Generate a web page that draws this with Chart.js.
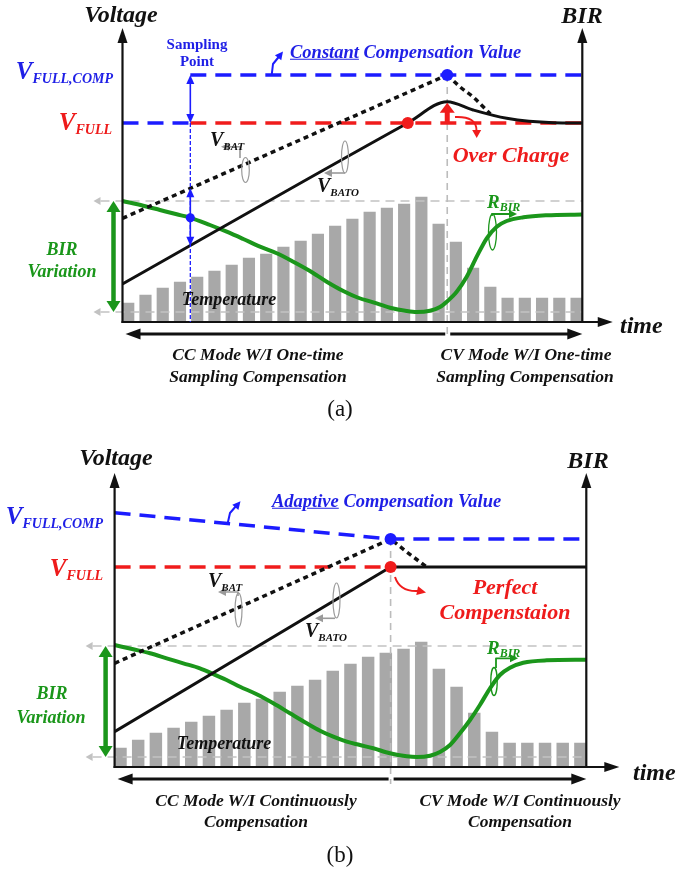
<!DOCTYPE html>
<html>
<head>
<meta charset="utf-8">
<title>BIR compensation charging</title>
<script src="https://cdn.jsdelivr.net/npm/chart.js@4.4.1/dist/chart.umd.min.js"></script>
<style>
html,body{margin:0;padding:0;background:#fff;}
#wrap{position:relative;width:679px;height:873px;overflow:hidden;font-family:"Liberation Serif","Times New Roman",Times,serif;}
#wrap canvas{position:absolute;left:0;}
.t{position:absolute;white-space:nowrap;line-height:1;font-weight:bold;font-style:italic;color:#111;z-index:2;}
.c{transform:translate(-50%,-50%);text-align:center;}
.l{transform:translate(0,-50%);}
.r{transform:translate(-100%,-50%);}
.blue{color:#1f1fe6;} .red{color:#ee1b1b;} .green{color:#1a961a;}
.s{position:relative;}
.u{text-decoration:underline;}
.n{font-weight:normal;font-style:normal;}
</style>
</head>
<body>
<div id="wrap">
<canvas id="ca" width="679" height="436" style="top:0px"></canvas>
<canvas id="cb" width="679" height="437" style="top:436px"></canvas>

<!-- panel (a) texts -->
<div class="t c" style="left:121px;top:14px;font-size:24px">Voltage</div>
<div class="t c" style="left:582px;top:15px;font-size:24px">BIR</div>
<div class="t c blue" style="left:197px;top:44px;font-size:15px;font-style:normal">Sampling</div>
<div class="t c blue" style="left:197px;top:61px;font-size:15px;font-style:normal">Point</div>
<div class="t r blue" style="left:113px;top:70px;font-size:25px">V<span class="s" style="font-size:14px;top:4px">FULL,COMP</span></div>
<div class="t r red" style="left:112px;top:121px;font-size:25px">V<span class="s" style="font-size:14px;top:4px">FULL</span></div>
<div class="t l blue" style="left:290px;top:52px;font-size:18.5px"><span class="u">Constant</span> Compensation Value</div>
<div class="t l" style="left:210px;top:139px;font-size:20px">V<span class="s" style="font-size:11px;top:4px">BAT</span></div>
<div class="t l" style="left:317px;top:185px;font-size:20px">V<span class="s" style="font-size:11px;top:4px">BATO</span></div>
<div class="t l green" style="left:487px;top:201px;font-size:19px">R<span class="s" style="font-size:12px;top:3px">BIR</span></div>
<div class="t c red" style="left:511px;top:155px;font-size:22px">Over Charge</div>
<div class="t c" style="left:229px;top:299px;font-size:18px">Temperature</div>
<div class="t c green" style="left:62px;top:249px;font-size:18px">BIR</div>
<div class="t c green" style="left:62px;top:271px;font-size:18px">Variation</div>
<div class="t c" style="left:258px;top:355px;font-size:17.5px">CC Mode W/I One-time</div>
<div class="t c" style="left:258px;top:377px;font-size:17.5px">Sampling Compensation</div>
<div class="t c" style="left:526px;top:355px;font-size:17.5px">CV Mode W/I One-time</div>
<div class="t c" style="left:525px;top:377px;font-size:17.5px">Sampling Compensation</div>
<div class="t l" style="left:620px;top:325px;font-size:24px">time</div>
<div class="t c n" style="left:340px;top:408px;font-size:23px">(a)</div>

<!-- panel (b) texts -->
<div class="t c" style="left:116px;top:457px;font-size:24px">Voltage</div>
<div class="t c" style="left:588px;top:460px;font-size:24px">BIR</div>
<div class="t r blue" style="left:103px;top:515px;font-size:25px">V<span class="s" style="font-size:14px;top:4px">FULL,COMP</span></div>
<div class="t r red" style="left:103px;top:567px;font-size:25px">V<span class="s" style="font-size:14px;top:4px">FULL</span></div>
<div class="t l blue" style="left:272px;top:501px;font-size:18.5px"><span class="u">Adaptive</span> Compensation Value</div>
<div class="t l" style="left:208px;top:580px;font-size:20px">V<span class="s" style="font-size:11px;top:4px">BAT</span></div>
<div class="t l" style="left:305px;top:630px;font-size:20px">V<span class="s" style="font-size:11px;top:4px">BATO</span></div>
<div class="t l green" style="left:487px;top:647px;font-size:19px">R<span class="s" style="font-size:12px;top:3px">BIR</span></div>
<div class="t c red" style="left:505px;top:587px;font-size:22px">Perfect</div>
<div class="t c red" style="left:505px;top:612px;font-size:22px">Compenstaion</div>
<div class="t c" style="left:224px;top:743px;font-size:18px">Temperature</div>
<div class="t c green" style="left:52px;top:693px;font-size:18px">BIR</div>
<div class="t c green" style="left:51px;top:717px;font-size:18px">Variation</div>
<div class="t c" style="left:256px;top:801px;font-size:17.5px">CC Mode W/I Continuously</div>
<div class="t c" style="left:256px;top:822px;font-size:17.5px">Compensation</div>
<div class="t c" style="left:520px;top:801px;font-size:17.5px">CV Mode W/I Continuously</div>
<div class="t c" style="left:520px;top:822px;font-size:17.5px">Compensation</div>
<div class="t l" style="left:633px;top:772px;font-size:24px">time</div>
<div class="t c n" style="left:340px;top:854px;font-size:23px">(b)</div>
</div>

<script>
// ---------------- data (arbitrary units) ----------------
const xStart = -1/3, xEnd = 26 + 1/3;          // time axis span (bar slots 0..26)
const timeSlots = [0,1,2,3,4,5,6,7,8,9,10,11,12,13,14,15,16,17,18,19,20,21,22,23,24,25,26];
const axisTopValue = 294;

// panel (a)
const tempA = [19,27,34,40,45,51,57,64,68,75,81,88,96,103,110,114,118,125,98,80,54,35,24,24,24,24,24];
const aVfull = 199, aVfullComp = 247, aSampleX = 3.6, aPeakX = 18.5, aRedDotX = 16.21;
const aGrayTop = 121, aGrayBottom = 10, aTimeTip = 28.1;
const aVbatoX = [xStart, 16.21, 18.5, 20.0, 21.95, 24.64, xEnd];
const aVbatoY = [38, 199, 220.3, 212, 203.7, 199.3, 199];
const aVbatRiseX = [xStart, 18.5];
const aVbatRiseY = [103.7, 247];
const aVbatFallX = [18.5, 19.25, 20.0, 20.6, 21.0];
const aVbatFallY = [247, 235, 225, 215, 208];
const aBirX = [xStart,0.87,1.84,2.81,3.52,4.74,5.71,6.67,7.64,8.61,9.57,10.54,11.51,12.47,13.3,14.21,15.18,16.15,16.73,17.5,18.08,18.47,19.05,19.63,20.21,20.79,21.37,21.95,22.92,24.27,xEnd];
const aBirY = [121,116.3,112,107.7,104.7,97,90.3,83,75.3,68.7,60.3,51,40.3,31,24.5,19.7,14.3,11,10,11.3,15,20.3,30.3,45.3,65.3,83.7,95.3,101,104.7,106.7,107.5];

// panel (b)
const tempB = [19,27,34,39,45,51,57,64,68,75,81,87,96,103,110,114,118,125,98,80,54,35,24,24,24,24,24];
const bVfull = 200, bPeakX = 15.27, bGrayTop = 121, bGrayBottom = 10, bTimeTip = 28.2;
const bCompX = [xStart, 15.27, xEnd];
const bCompY = [254.3, 228, 228];
const bVbatoX = [xStart, 15.27, xEnd];
const bVbatoY = [35.3, 200, 200];
const bVbatX  = [xStart, 15.27, 16.18, 17.31];
const bVbatY  = [103.7, 228, 215, 200];
const bBirX = [xStart,0.72,1.67,2.61,3.55,4.49,5.16,6.0,6.76,7.7,8.64,9.58,10.53,11.28,12.03,12.79,13.54,14.29,15.23,16.18,16.74,17.5,18.06,18.63,19.19,19.76,20.32,20.89,21.45,22.02,22.77,24.09,xEnd];
const bBirY = [122,117.7,113.7,108.7,103.7,98.7,93.7,87,80.3,72.7,63.7,53.7,43.7,36.3,30.3,25.3,22,18.7,13.7,10.7,10,11.3,15,22,33.7,47,62,78.7,92,99.3,104.3,106.7,107.3];

// ---------------- styles ----------------
const C = {black:'#111111', blue:'#1c1cff', red:'#f01c1c', green:'#1b961b', bar:'#a8a8a8', guide:'#c2c2c2', note:'#9a9a9a'};

const zip = (xs, ys) => xs.map((x, i) => ({x, y: ys[i]}));
function interp(x, xs, ys){
  for (let i = 1; i < xs.length; i++) if (x <= xs[i]) { const t = (x - xs[i-1]) / (xs[i] - xs[i-1]); return ys[i-1] + t * (ys[i] - ys[i-1]); }
  return ys[ys.length - 1];
}
function lineDs(data, color, width, dash, order, smooth){
  return {type:'line', data, borderColor:color, borderWidth:width, borderDash:dash || [], pointRadius:0, fill:false, order,
          cubicInterpolationMode: smooth ? 'monotone' : 'default', tension:0, borderCapStyle:'butt', borderJoinStyle:'round'};
}
function barDs(values, thick){
  return {type:'bar', data: zip(timeSlots, values), backgroundColor:C.bar, barThickness:thick, order:10};
}
function dotDs(points, colors){
  return {type:'line', data: points, showLine:false, pointRadius:6, pointBackgroundColor:colors, pointBorderColor:colors, pointBorderWidth:0, order:0};
}

// ---------------- drawing helpers ----------------
function seg(ctx, pts, color, w, dash){
  ctx.save(); ctx.beginPath(); ctx.moveTo(pts[0][0], pts[0][1]);
  for (let i = 1; i < pts.length; i++) ctx.lineTo(pts[i][0], pts[i][1]);
  ctx.strokeStyle = color; ctx.lineWidth = w; ctx.setLineDash(dash || []); ctx.lineJoin = 'round'; ctx.stroke(); ctx.restore();
}
function head(ctx, x, y, ang, len, wid, color){
  ctx.save(); ctx.translate(x, y); ctx.rotate(ang); ctx.beginPath();
  ctx.moveTo(0, 0); ctx.lineTo(-len, -wid/2); ctx.lineTo(-len, wid/2); ctx.closePath();
  ctx.fillStyle = color; ctx.fill(); ctx.restore();
}
function ell(ctx, cx, cy, rx, ry, color, w){
  ctx.save(); ctx.beginPath(); ctx.ellipse(cx, cy, rx, ry, 0, 0, Math.PI*2); ctx.strokeStyle = color; ctx.lineWidth = w; ctx.stroke(); ctx.restore();
}
function dot(ctx, x, y, r, color){ ctx.save(); ctx.beginPath(); ctx.arc(x, y, r, 0, Math.PI*2); ctx.fillStyle = color; ctx.fill(); ctx.restore(); }
function scalers(chart){
  return [v => chart.scales.x.getPixelForValue(v), v => chart.scales.y.getPixelForValue(v)];
}

function drawGuides(chart, p){
  const ctx = chart.ctx, [X, Y] = scalers(chart);
  const L = X(xStart), R = X(xEnd), B = Y(0);
  [p.grayTop, p.grayBottom].forEach(v => {
    const y = Y(v);
    seg(ctx, [[L-22, y], [R, y]], C.guide, 1.6, [9, 6]);
    head(ctx, L-29, y, Math.PI, 7, 8, C.guide);
  });
  seg(ctx, [[X(p.peakX), Y(p.peakTop)], [X(p.peakX), B + 17]], '#bcbcbc', 1.6, [7, 5]);
}

function drawCommon(chart, p){
  const ctx = chart.ctx, [X, Y] = scalers(chart);
  const L = X(xStart), R = X(xEnd), B = Y(0), T = Y(axisTopValue);
  seg(ctx, [[L, B+1], [L, T+14]], C.black, 2.2);
  head(ctx, L, T, -Math.PI/2, 15, 10, C.black);
  seg(ctx, [[R, B+1], [R, T+14]], C.black, 2.2);
  head(ctx, R, T, -Math.PI/2, 15, 10, C.black);
  const tx = X(p.timeTip);
  seg(ctx, [[L-1, B], [tx-14, B]], C.black, 2.2);
  head(ctx, tx, B, 0, 15, 10, C.black);
  // mode arrows
  const my = B + 12, px = X(p.peakX);
  seg(ctx, [[L+15, my], [px-2, my]], C.black, 3);
  head(ctx, L+3, my, Math.PI, 15, 11, C.black);
  seg(ctx, [[px+3, my], [R-13, my]], C.black, 3);
  head(ctx, R, my, 0, 15, 11, C.black);
  // BIR variation arrow
  const gx = L - 9, gt = Y(p.grayTop), gb = Y(p.grayBottom);
  seg(ctx, [[gx, gt+9], [gx, gb-9]], C.green, 4.5);
  head(ctx, gx, gt, -Math.PI/2, 11, 14, C.green);
  head(ctx, gx, gb, Math.PI/2, 11, 14, C.green);
}

function drawPanelA(chart){
  const ctx = chart.ctx, [X, Y] = scalers(chart);
  const B = Y(0), xs = X(aSampleX), yC = Y(aVfullComp), yF = Y(aVfull);
  // sampling point markers
  seg(ctx, [[xs, yF], [xs, B]], C.blue, 1.3, [4, 2]);
  seg(ctx, [[xs, yC+8], [xs, yF-8]], C.blue, 1.6);
  head(ctx, xs, yC, -Math.PI/2, 9, 8, C.blue);
  head(ctx, xs, yF, Math.PI/2, 9, 8, C.blue);
  const yBat = Y(interp(aSampleX, aVbatRiseX, aVbatRiseY)), yBato = Y(interp(aSampleX, aVbatoX, aVbatoY)), yG = Y(interp(aSampleX, aBirX, aBirY));
  seg(ctx, [[xs, yBat+8], [xs, yBato-8]], C.blue, 1.6);
  head(ctx, xs, yBat, -Math.PI/2, 9, 8, C.blue);
  head(ctx, xs, yBato, Math.PI/2, 9, 8, C.blue);
  dot(ctx, xs, yG, 4.5, C.blue);
  // over-charge arrow
  const px = X(aPeakX), tip = Y(interp(aPeakX, aVbatoX, aVbatoY)) + 1;
  seg(ctx, [[px, yF+1], [px, tip+8]], C.red, 5);
  head(ctx, px, tip, -Math.PI/2, 10, 15, C.red);
  ctx.save(); ctx.beginPath(); ctx.moveTo(455, 117); ctx.quadraticCurveTo(477, 116, 476.5, 131);
  ctx.strokeStyle = C.red; ctx.lineWidth = 2; ctx.stroke(); ctx.restore();
  head(ctx, 476.7, 138, Math.PI/2, 8, 9, C.red);
  // compensation value pointer
  seg(ctx, [[271.7, 75], [273, 64], [279.5, 56]], C.blue, 2);
  head(ctx, 283, 51.5, Math.atan2(-4.5, 3.5), 8, 8, C.blue);
  // curve tags
  seg(ctx, [[240, 158], [240, 146.7], [228, 146.7]], C.note, 1.6);
  head(ctx, 221, 146.7, Math.PI, 8, 8, C.note);
  ell(ctx, 245.5, 170, 3.8, 12.5, C.note, 1.2);
  seg(ctx, [[345, 173], [331, 173]], C.note, 1.6);
  head(ctx, 324, 173, Math.PI, 8, 8, C.note);
  ell(ctx, 345, 157, 3.5, 16, C.note, 1.2);
  seg(ctx, [[492, 216], [492, 214], [509, 214]], C.green, 1.8);
  head(ctx, 517, 214, 0, 8, 8, C.green);
  ell(ctx, 492.5, 232, 4, 18, C.green, 1.3);
}

function drawPanelB(chart){
  const ctx = chart.ctx;
  // perfect compensation arrow
  ctx.save(); ctx.beginPath(); ctx.moveTo(395, 141); ctx.quadraticCurveTo(400, 156, 418, 155);
  ctx.strokeStyle = C.red; ctx.lineWidth = 2; ctx.stroke(); ctx.restore();
  head(ctx, 426, 156.5, 0.2, 9, 9, C.red);
  // compensation value pointer
  seg(ctx, [[227.7, 87.3], [230, 77], [236.5, 69.5]], C.blue, 2);
  head(ctx, 240.5, 65.3, Math.atan2(-4.5, 3.8), 8, 8, C.blue);
  // curve tags
  seg(ctx, [[238, 160], [238, 156], [225, 156]], C.note, 1.6);
  head(ctx, 218, 156, Math.PI, 8, 8, C.note);
  ell(ctx, 238.5, 174, 3.5, 17, C.note, 1.2);
  seg(ctx, [[335, 182.3], [322, 182.3]], C.note, 1.6);
  head(ctx, 315, 182.3, Math.PI, 8, 8, C.note);
  ell(ctx, 336.5, 164.5, 3.5, 17.5, C.note, 1.2);
  seg(ctx, [[496, 232], [496, 222.3], [510, 222.3]], C.green, 1.8);
  head(ctx, 518, 222.3, 0, 8, 8, C.green);
  ell(ctx, 494, 245.5, 3.2, 14, C.green, 1.3);
}

function makeChart(id, padding, datasets, panel, extra){
  return new Chart(document.getElementById(id), {
    type: 'bar',
    data: {datasets},
    options: {
      responsive: false, animation: false, devicePixelRatio: 1, events: [],
      layout: {padding},
      plugins: {legend: {display: false}, tooltip: {enabled: false}},
      scales: {
        x: {type: 'linear', min: xStart, max: xEnd, display: false, offset: false},
        y: {type: 'linear', min: 0, max: 300, display: false}
      }
    },
    plugins: [{
      id: 'annot_' + id,
      afterDatasetDraw(chart, args){ if (args.index === 0) drawGuides(chart, panel); },
      afterDatasetsDraw(chart){ drawCommon(chart, panel); extra(chart); }
    }]
  });
}

// panel (a)
makeChart('ca', {left:122.5, right:96.7, top:22, bottom:114}, [
  barDs(tempA, 11.5),
  lineDs(zip(aBirX, aBirY), C.green, 4, [], 6, true),
  lineDs([{x:aSampleX, y:aVfull}, {x:xEnd, y:aVfull}], C.red, 3.5, [16, 9], 5),
  lineDs([{x:xStart, y:aVfull}, {x:aSampleX, y:aVfull}], C.blue, 3.5, [16, 9], 5),
  lineDs([{x:aSampleX, y:aVfullComp}, {x:xEnd, y:aVfullComp}], C.blue, 3.5, [16, 9], 5),
  lineDs(zip(aVbatRiseX, aVbatRiseY), C.black, 3.5, [5, 4], 4),
  lineDs(zip(aVbatFallX, aVbatFallY), C.black, 3.5, [5, 4], 4, true),
  lineDs(zip(aVbatoX, aVbatoY), C.black, 3, [], 3, true),
  dotDs([{x:aPeakX, y:aVfullComp}, {x:aRedDotX, y:aVfull}], [C.blue, C.red])
], {grayTop:aGrayTop, grayBottom:aGrayBottom, peakX:aPeakX, peakTop:aVfullComp, timeTip:aTimeTip}, drawPanelA);

// panel (b)
makeChart('cb', {left:114.6, right:92.7, top:31, bottom:106}, [
  barDs(tempB, 11.8),
  lineDs(zip(bBirX, bBirY), C.green, 4, [], 6, true),
  lineDs([{x:xStart, y:bVfull}, {x:bPeakX, y:bVfull}], C.red, 3.5, [16, 9], 5),
  lineDs(zip(bCompX, bCompY), C.blue, 3.5, [16, 9], 5),
  lineDs(zip(bVbatX, bVbatY), C.black, 3.5, [5, 4], 4),
  lineDs(zip(bVbatoX, bVbatoY), C.black, 3, [], 3),
  dotDs([{x:bPeakX, y:bCompY[1]}, {x:bPeakX, y:bVfull}], [C.blue, C.red])
], {grayTop:bGrayTop, grayBottom:bGrayBottom, peakX:bPeakX, peakTop:bCompY[1], timeTip:bTimeTip}, drawPanelB);
</script>
</body>
</html>
